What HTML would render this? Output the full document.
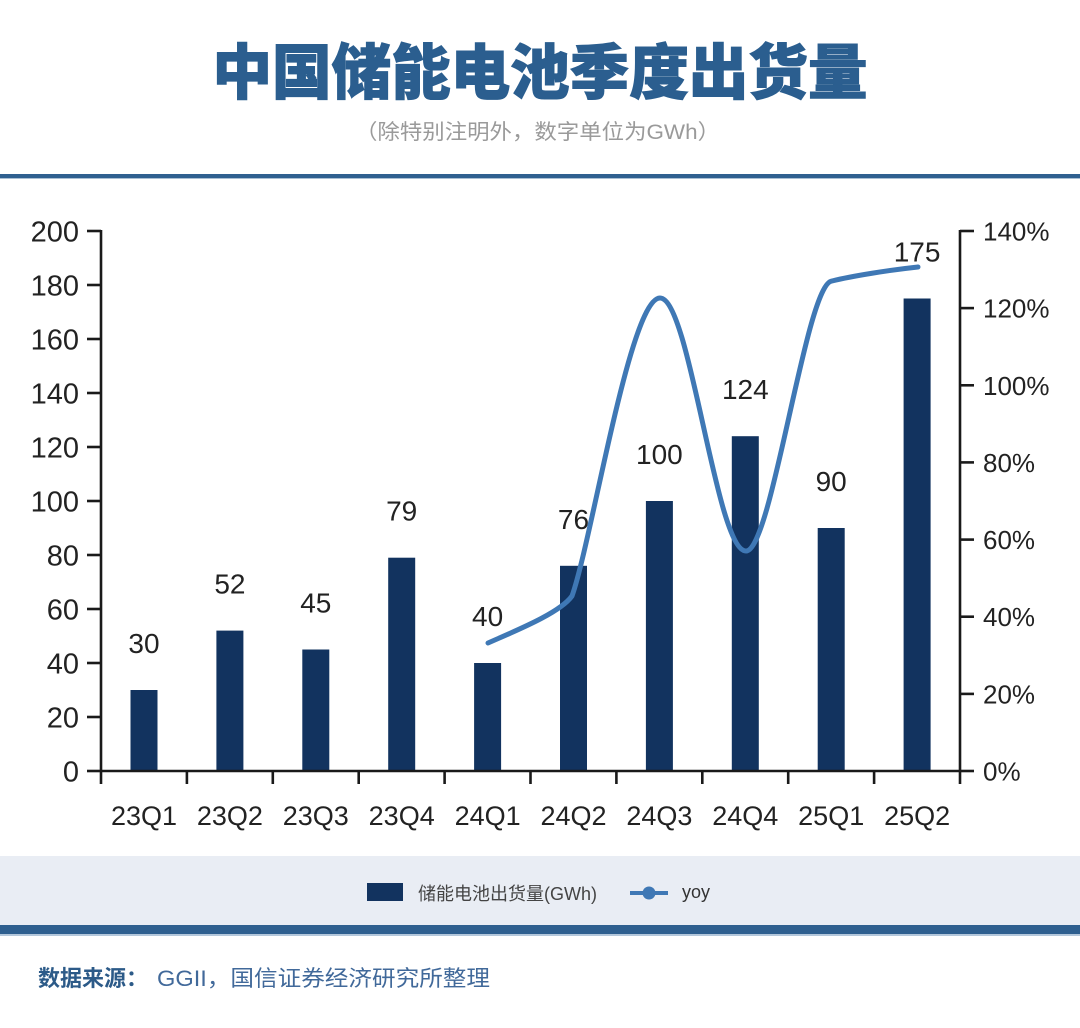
<!DOCTYPE html>
<html>
<head>
<meta charset="utf-8">
<style>
  html, body { margin: 0; padding: 0; background: #ffffff; }
  body { width: 1080px; height: 1028px; overflow: hidden; }
  svg { display: block; }
  .lat { font-family: "Liberation Sans", "Noto Sans CJK SC", sans-serif; }
  .cjk { font-family: "Liberation Sans", "Noto Sans CJK SC", sans-serif; }
</style>
</head>
<body>
<svg width="1080" height="1028" viewBox="0 0 1080 1028" xmlns="http://www.w3.org/2000/svg">
  <rect x="0" y="0" width="1080" height="1028" fill="#ffffff"/>

  <!-- Title -->
  <text x="540" y="94" text-anchor="middle" class="cjk" font-size="60" font-weight="900" fill="#2b5e8f" stroke="#2b5e8f" stroke-width="1.1" textLength="655" lengthAdjust="spacingAndGlyphs">中国储能电池季度出货量</text>
  <!-- Subtitle -->
  <text x="355" y="139" class="cjk" font-size="21" fill="#9a9a9a" textLength="365" lengthAdjust="spacingAndGlyphs">（除特别注明外，数字单位为GWh）</text>

  <!-- top rule -->
  <rect x="0" y="174" width="1080" height="4" fill="#2f6090"/>
  <rect x="0" y="178" width="1080" height="1" fill="#a9bfd4"/>

  <!-- Bars -->
  <g fill="#12335f">
    <rect x="130.5" y="690" width="27" height="81"/>
    <rect x="216.4" y="630.6" width="27" height="140.4"/>
    <rect x="302.3" y="649.5" width="27" height="121.5"/>
    <rect x="388.2" y="557.7" width="27" height="213.3"/>
    <rect x="474.1" y="663" width="27" height="108"/>
    <rect x="560" y="565.8" width="27" height="205.2"/>
    <rect x="645.9" y="501" width="27" height="270"/>
    <rect x="731.8" y="436.2" width="27" height="334.8"/>
    <rect x="817.7" y="528" width="27" height="243"/>
    <rect x="903.6" y="298.5" width="27" height="472.5"/>
  </g>

  <!-- Value labels -->
  <g class="lat" font-size="28" fill="#222" text-anchor="middle">
    <text x="144" y="653">30</text>
    <text x="229.9" y="593.6">52</text>
    <text x="315.8" y="612.5">45</text>
    <text x="401.7" y="520.7">79</text>
    <text x="487.6" y="626">40</text>
    <text x="573.5" y="528.8">76</text>
    <text x="659.4" y="464">100</text>
    <text x="745.3" y="399.2">124</text>
    <text x="831.2" y="491">90</text>
    <text x="917.1" y="261.5">175</text>
  </g>

  <!-- YoY line -->
  <path d="M488,643 C515,631 560,613 572,596 C592,540 630,298 660,298 C690,298 716,551 746,551 C772,551 806,283 832,281 C852,276 890,270 918,267"
        fill="none" stroke="#3f78b5" stroke-width="5" stroke-linecap="round" stroke-linejoin="round"/>

  <!-- Axes -->
  <g stroke="#1a1a1a" stroke-width="2.6" fill="none">
    <line x1="101" y1="230" x2="101" y2="784"/>
    <line x1="960" y1="230" x2="960" y2="784"/>
    <line x1="101" y1="771" x2="960" y2="771"/>
    <line x1="87" y1="231" x2="101" y2="231"/>
    <line x1="87" y1="285" x2="101" y2="285"/>
    <line x1="87" y1="339" x2="101" y2="339"/>
    <line x1="87" y1="393" x2="101" y2="393"/>
    <line x1="87" y1="447" x2="101" y2="447"/>
    <line x1="87" y1="501" x2="101" y2="501"/>
    <line x1="87" y1="555" x2="101" y2="555"/>
    <line x1="87" y1="609" x2="101" y2="609"/>
    <line x1="87" y1="663" x2="101" y2="663"/>
    <line x1="87" y1="717" x2="101" y2="717"/>
    <line x1="87" y1="771" x2="101" y2="771"/>
    <line x1="960" y1="231" x2="974" y2="231"/>
    <line x1="960" y1="308.1" x2="974" y2="308.1"/>
    <line x1="960" y1="385.3" x2="974" y2="385.3"/>
    <line x1="960" y1="462.4" x2="974" y2="462.4"/>
    <line x1="960" y1="539.6" x2="974" y2="539.6"/>
    <line x1="960" y1="616.7" x2="974" y2="616.7"/>
    <line x1="960" y1="693.9" x2="974" y2="693.9"/>
    <line x1="960" y1="771" x2="974" y2="771"/>
    <line x1="186.9" y1="771" x2="186.9" y2="784"/>
    <line x1="272.8" y1="771" x2="272.8" y2="784"/>
    <line x1="358.7" y1="771" x2="358.7" y2="784"/>
    <line x1="444.6" y1="771" x2="444.6" y2="784"/>
    <line x1="530.5" y1="771" x2="530.5" y2="784"/>
    <line x1="616.4" y1="771" x2="616.4" y2="784"/>
    <line x1="702.3" y1="771" x2="702.3" y2="784"/>
    <line x1="788.2" y1="771" x2="788.2" y2="784"/>
    <line x1="874.1" y1="771" x2="874.1" y2="784"/>
  </g>

  <!-- Left axis labels -->
  <g class="lat" font-size="29" fill="#222" text-anchor="end">
    <text x="79" y="241.5">200</text>
    <text x="79" y="295.5">180</text>
    <text x="79" y="349.5">160</text>
    <text x="79" y="403.5">140</text>
    <text x="79" y="457.5">120</text>
    <text x="79" y="511.5">100</text>
    <text x="79" y="565.5">80</text>
    <text x="79" y="619.5">60</text>
    <text x="79" y="673.5">40</text>
    <text x="79" y="727.5">20</text>
    <text x="79" y="781.5">0</text>
  </g>

  <!-- Right axis labels -->
  <g class="lat" font-size="26" fill="#222">
    <text x="983" y="240.5">140%</text>
    <text x="983" y="317.6">120%</text>
    <text x="983" y="394.8">100%</text>
    <text x="983" y="471.9">80%</text>
    <text x="983" y="549.1">60%</text>
    <text x="983" y="626.2">40%</text>
    <text x="983" y="703.4">20%</text>
    <text x="983" y="780.5">0%</text>
  </g>

  <!-- X axis labels -->
  <g class="lat" font-size="27" fill="#222" text-anchor="middle">
    <text x="144" y="825">23Q1</text>
    <text x="229.9" y="825">23Q2</text>
    <text x="315.8" y="825">23Q3</text>
    <text x="401.7" y="825">23Q4</text>
    <text x="487.6" y="825">24Q1</text>
    <text x="573.5" y="825">24Q2</text>
    <text x="659.4" y="825">24Q3</text>
    <text x="745.3" y="825">24Q4</text>
    <text x="831.2" y="825">25Q1</text>
    <text x="917.1" y="825">25Q2</text>
  </g>

  <!-- Legend band -->
  <rect x="0" y="856" width="1080" height="69" fill="#e9edf4"/>
  <rect x="0" y="925" width="1080" height="9" fill="#2e5f8f"/>
  <rect x="0" y="934" width="1080" height="2" fill="#b3c7db"/>

  <rect x="367" y="883" width="36" height="18" fill="#12335f"/>
  <text x="418" y="900" class="cjk" font-size="18" fill="#444">储能电池出货量(GWh)</text>
  <line x1="630" y1="893" x2="668" y2="893" stroke="#3f78b5" stroke-width="4"/>
  <circle cx="649" cy="893" r="6.5" fill="#3f78b5"/>
  <text x="682" y="898" class="lat" font-size="18" fill="#333">yoy</text>

  <!-- Source -->
  <text x="38" y="986" class="cjk" font-size="22" fill="#2c5a88" font-weight="700">数据来源：</text>
  <text x="157" y="986" class="cjk" font-size="22" fill="#41699a" textLength="333" lengthAdjust="spacingAndGlyphs">GGII，国信证券经济研究所整理</text>
</svg>
</body>
</html>
